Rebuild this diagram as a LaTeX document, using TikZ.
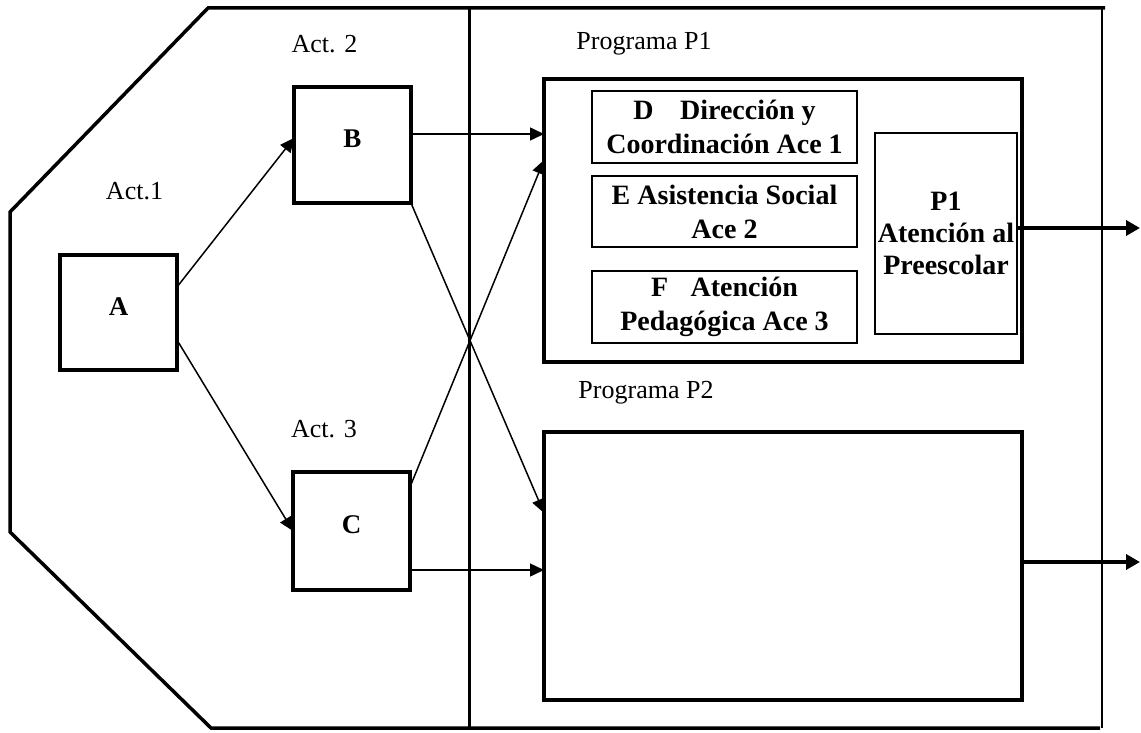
\documentclass[tikz,border=0pt]{standalone}
\usepackage{fontspec}
\setmainfont{Liberation Serif}
\usetikzlibrary{arrows.meta}
\begin{document}
\begin{tikzpicture}[x=1pt,y=-1pt,
  thickbox/.style={draw, line width=3.5pt, inner sep=0pt, outer sep=0pt, rectangle},
  thinbox/.style={draw, line width=2pt, inner sep=0pt, outer sep=0pt, rectangle, align=center,
     font=\bfseries\fontsize{28}{34}\selectfont},
  letter/.style={font=\bfseries\fontsize{27}{30}\selectfont, text depth=12pt},
  lbl/.style={font=\fontsize{26}{30}\selectfont, anchor=base, inner sep=0pt},
  conn/.style={-{Triangle[length=14pt,width=13pt]}, line width=1.5pt},
  outarrow/.style={-{Triangle[length=14pt,width=15pt]}, line width=3.5pt},
  frame/.style={line width=3.5pt, line join=miter},
]
\useasboundingbox (0,0) rectangle (1141,733);

% frame
\draw[frame] (1105,8) -- (208,8) -- (10,212) -- (10,532) -- (211,728) -- (1100,728);
\draw[line width=3pt] (469,8) -- (469,728);
\draw[line width=1.5pt] (1102,8) -- (1102,728);

% labels
\node[lbl] (act1) at (134.5,200) {Act.1};
\node[lbl] (act2) at (324.5,53) {Act. 2};
\node[lbl] (act3) at (324,437) {Act. 3};
\node[lbl] (prog1) at (644,50) {Programa P1};
\node[lbl] (prog2) at (646,398) {Programa P2};

% activity boxes
\node[thickbox, letter, minimum width=117pt, minimum height=115pt] (A) at (118.5,312.5) {A};
\node[thickbox, letter, minimum width=117pt, minimum height=116pt] (B) at (352.5,145) {B};
\node[thickbox, letter, minimum width=117pt, minimum height=118pt] (C) at (351.5,531) {C};

% program boxes
\node[thickbox, minimum width=478pt, minimum height=283pt] (P1box) at (783,220.5) {};
\node[thickbox, minimum width=478pt, minimum height=268pt] (P2box) at (783,566) {};

\node[thinbox, minimum width=265pt, minimum height=72pt] (D) at (724.5,127)
  {D\hspace{0.95em}Dirección y\\Coordinación Ace 1};
\node[thinbox, minimum width=265pt, minimum height=71pt] (E) at (724.5,211.5)
  {E Asistencia Social\\Ace 2};
\node[thinbox, minimum width=265pt, minimum height=72pt] (F) at (724.5,307)
  {F\hspace{0.8em}Atención\\Pedagógica Ace 3};
\node[thinbox, minimum width=142pt, minimum height=201pt,
  font=\bfseries\fontsize{28}{32}\selectfont] (P1) at (946,233.5)
  {P1\\Atención al\\Preescolar};

% connectors
\draw[conn] ([yshift=25.5pt]A.east) -- ([yshift=7pt]B.west);
\draw[conn] ([yshift=-27.5pt]A.east) -- (C.west);
\draw[conn] ([yshift=11pt]B.east) -- ([yshift=11pt]B.east -| P1box.west);
\draw[conn] (B.south east) -- ([yshift=53pt]P2box.west);
\draw[conn] ([yshift=44pt]C.east) -- ([yshift=60.5pt]P1box.west);
\draw[conn] ([yshift=-39pt]C.east) -- ([yshift=-39pt]C.east -| P2box.west);

\coordinate (out1) at (1140,228);
\coordinate (out2) at (1140,562);
\draw[outarrow] ([yshift=5.5pt]P1.east) -- (out1);
\draw[outarrow] ([yshift=4pt]P2box.east) -- (out2);
\end{tikzpicture}
\end{document}
